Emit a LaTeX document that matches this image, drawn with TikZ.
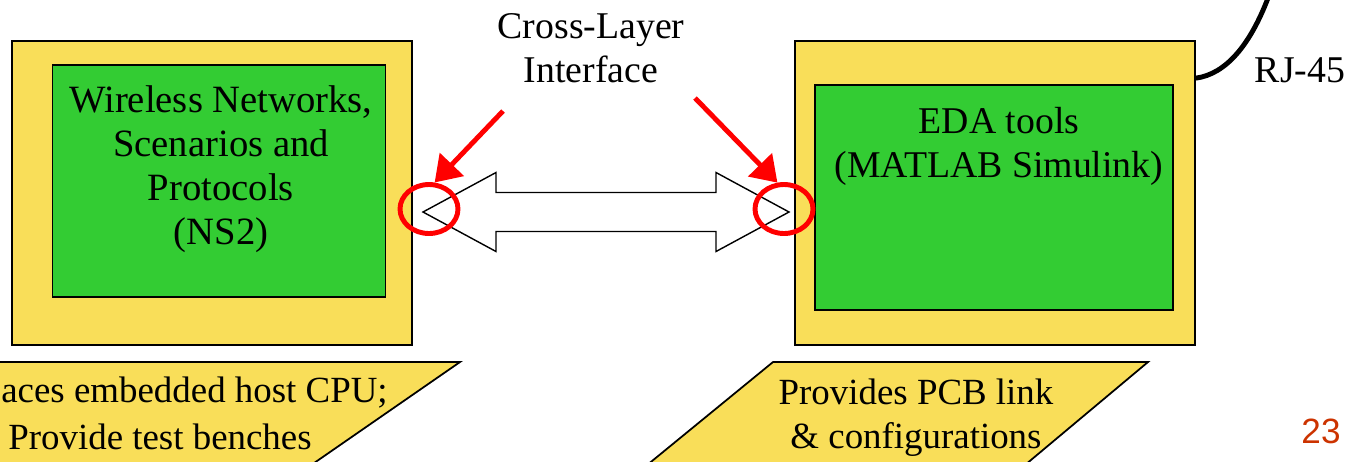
\documentclass[tikz,border=0pt]{standalone}
\usepackage{fontspec}
\setmainfont{Liberation Serif}
\newfontfamily\numfont{Liberation Sans}
\usepackage{tikz}
\usetikzlibrary{positioning,arrows.meta,calc,shapes.geometric}
\definecolor{padyellow}{RGB}{249,222,89}
\definecolor{toolgreen}{RGB}{51,204,51}
\definecolor{pagered}{RGB}{204,51,0}
\tikzset{
    host/.style = {
        draw,
        shape=rectangle,
        fill=padyellow,
        minimum width=8cm,
        minimum height=6.08cm,
        line width=1pt
    },
    tool/.style = {
        draw,
        shape=rectangle,
        fill=toolgreen,
        line width=1pt
    },
    ring/.style = {
        draw=red,
        shape=ellipse,
        minimum width=1.16cm,
        minimum height=0.98cm,
        inner sep=0pt,
        line width=2.8pt
    },
    pointer/.style = {
        draw=red,
        line width=2.8pt,
        -{Triangle[length=0.5cm,width=0.65cm]}
    },
    pad/.style = {
        draw,
        fill=padyellow,
        line width=1pt
    },
    words/.style = {
        align=center,
        inner sep=0pt,
        font=\fontsize{21.5}{25}\selectfont
    },
    notes/.style = {
        words,
        font=\fontsize{21}{25}\selectfont
    },
    >=Triangle,
}

\begin{document}
\begin{tikzpicture}[x=0.02cm, y=-0.02cm]
                \clip (0,0) rectangle (1351,461);

                \node[host] (lhost) at (212,193) {};
                \node[tool, minimum width=6.66cm, minimum height=4.64cm] (ns2) at (219,181) {};
                \node[host] (rhost) at (995,193) {};
                \node[tool, minimum width=7.16cm, minimum height=4.5cm] (eda) at (994,197.5) {};

                \node[words, font=\fontsize{22}{25}\selectfont] (ns2txt) at (221,169) {Wireless Networks,\\Scenarios and\\Protocols\\(NS2)};
                \node[words] (edatxt) at (999,146) {EDA tools\\(MATLAB Simulink)};
                \node[words] (xlayer) at (591,48) {Cross-Layer\\Interface};
                \node[words] (rj) at (1300,70) {RJ-45};

                % bottom notes
                \path[pad] (-40,362) -- (460,362) -- (304,470) -- (-40,470) -- cycle;
                \path[pad] (773,362) -- (1148,362) -- (1019,470) -- (641,470) -- cycle;
                \node[notes, anchor=west] (hosttxt) at (1,393) {aces embedded host CPU;};
                \node[notes, anchor=west] (benchtxt) at (8,437) {Provide test benches};
                \node[notes] (pcbtxt) at (916,418) {Provides PCB link\\\& configurations};

                % block arrow between the two hosts
                \coordinate (ltip) at (423,212);
                \coordinate (rtip) at (789,212);
                \path[draw, fill=white, line width=0.8pt] (ltip) -- ++(73,-39.5) -- ++(0,20)
                    -- ($(rtip)+(-73,-19.5)$) -- ++(0,-20) -- (rtip) -- ++(-73,39.5) -- ++(0,-20)
                    -- ($(ltip)+(73,19.5)$) -- ++(0,20) -- cycle;

                \node[ring] (lring) at (429,209) {};
                \node[ring] (rring) at (784,209) {};
                \coordinate (lfrom) at (503,111);
                \coordinate (rfrom) at (695,98);
                \path[pointer] (lfrom) -- (lring.78);
                \path[pointer] (rfrom) -- (rring.104);

                \coordinate (cableend) at (1268,-2);
                \path[draw, line width=2.8pt] ($(rhost.north east)+(0,38)$) .. controls (1226,74) and (1250,45) .. (cableend);

                \node[font=\numfont\fontsize{20}{22}\selectfont, text=pagered, inner sep=0pt] (pagenum) at (1321,431) {23};
            \end{tikzpicture}
\end{document}
